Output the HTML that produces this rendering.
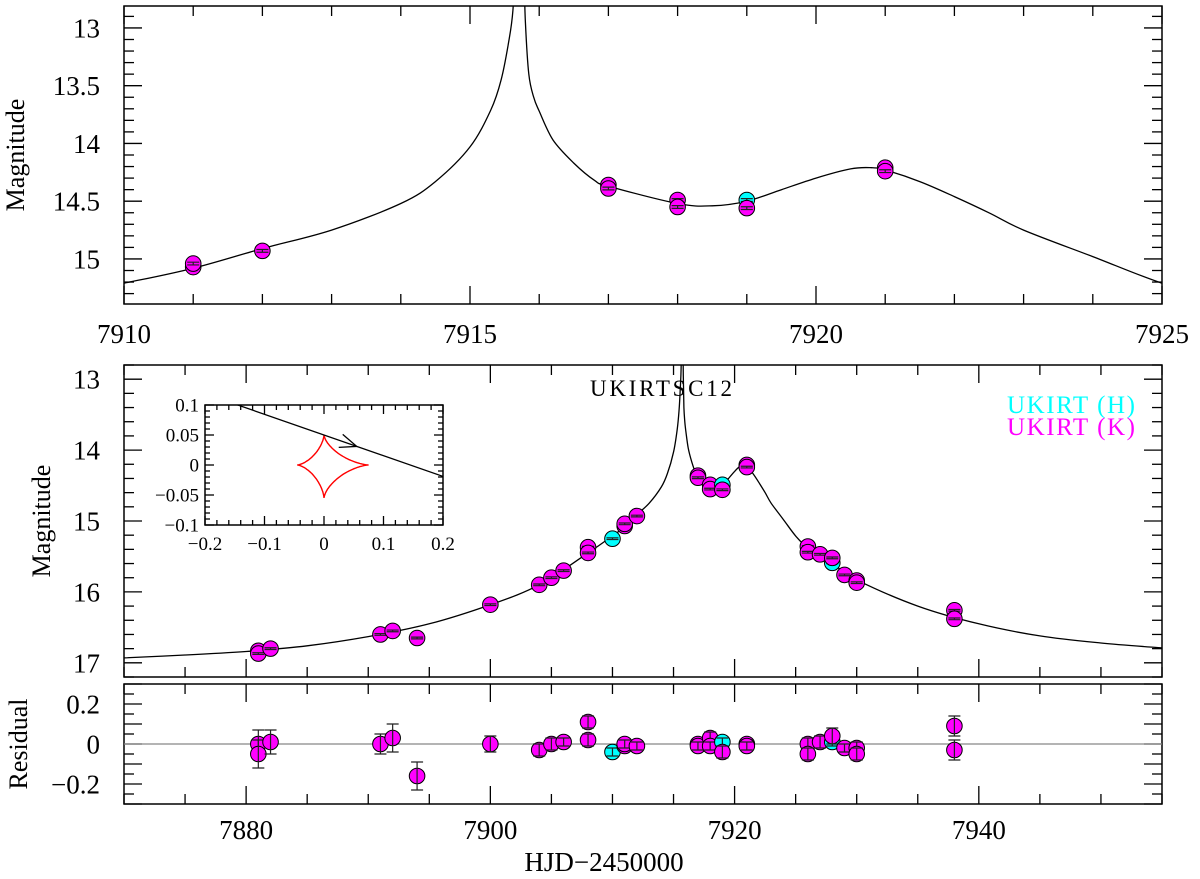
<!DOCTYPE html>
<html><head><meta charset="utf-8"><style>
html,body{margin:0;padding:0;background:#fff;}
svg{display:block;}
text{font-family:"Liberation Serif",serif;}
</style></head><body>
<svg id="fig" width="1200" height="879" viewBox="0 0 1200 879" xmlns="http://www.w3.org/2000/svg"></svg>
<script>
// ---- data ----
const days  = [7881,7881,7882,7891,7892,7894,7900,7904,7905,7906,7908,7908,7910,7911,7911,7912,7917,7917,7918,7918,7919,7919,7921,7921,7926,7926,7927,7928,7928,7929,7930,7930,7938,7938];
const mags  = [16.83,16.87,16.8,16.6,16.55,16.65,16.18,15.9,15.8,15.7,15.37,15.45,15.25,15.07,15.04,14.93,14.36,14.39,14.49,14.55,14.49,14.56,14.21,14.24,15.36,15.44,15.47,15.59,15.52,15.76,15.84,15.87,16.26,16.38];
const bands = ["K","K","K","K","K","K","K","K","K","K","K","K","H","K","K","K","K","K","K","K","H","K","K","K","K","K","K","H","K","K","K","K","K","K"];
const resid = [0.0,-0.05,0.01,0.0,0.03,-0.16,0.0,-0.03,0.0,0.01,0.11,0.02,-0.04,-0.01,0.0,-0.01,0.0,-0.01,0.03,-0.01,0.01,-0.04,0.0,-0.01,0.0,-0.05,0.01,0.01,0.04,-0.02,-0.02,-0.05,0.09,-0.03];
const rerr  = [0.07,0.07,0.06,0.05,0.07,0.07,0.04,0.03,0.03,0.02,0.03,0.03,0.02,0.02,0.02,0.02,0.02,0.02,0.03,0.02,0.02,0.03,0.02,0.02,0.03,0.03,0.03,0.02,0.04,0.02,0.03,0.03,0.05,0.05];
const modelT = [7870,7875,7880,7885,7890,7895,7900,7904,7908,7910,7911,7912,7913,7914,7914.5,7915,7915.3,7915.45,7915.55,7915.62,7915.66,7915.76,7915.8,7915.85,7915.92,7916,7916.2,7916.5,7916.8,7917,7918,7918.5,7919,7919.5,7920,7920.5,7920.8,7921,7921.5,7922,7922.5,7923,7924,7925,7926,7928,7930,7935,7940,7945,7950,7955];
const modelM = [16.93,16.89,16.84,16.76,16.63,16.45,16.18,15.9,15.45,15.21,15.08,14.91,14.75,14.52,14.33,14.03,13.71,13.45,13.15,12.85,12.3,12.3,12.95,13.4,13.6,13.72,13.97,14.17,14.32,14.37,14.52,14.54,14.5,14.4,14.3,14.22,14.21,14.23,14.33,14.46,14.6,14.75,14.98,15.21,15.38,15.6,15.83,16.2,16.45,16.62,16.72,16.79];
const trajX = [-0.2,0.2];
const trajY = [0.119,-0.019];
const topXTicks = ["7910","7915","7920","7925"];
const topYTicks = ["13","13.5","14","14.5","15"];
const midXTicks = ["7880","7900","7920","7940"];
const midYTicks = ["13","14","15","16","17"];
const resYTicks = ["0.2","0","-0.2"];
const insXTicks = ["-0.2","-0.1","0","0.1","0.2"];
const insYTicks = ["0.1","0.05","0","-0.05","-0.1"];

const NS="http://www.w3.org/2000/svg";
const svg=document.getElementById('fig');
function mk(tag,attrs,parent){const e=document.createElementNS(NS,tag);for(const k in attrs)e.setAttribute(k,attrs[k]);(parent||svg).appendChild(e);return e;}
function lin(d0,d1,p0,p1){return v=>p0+(v-d0)*(p1-p0)/(d1-d0);}
function lab(v){return v.replace('-','\u2212');}

function panel(name,L,R,T,B,x0,x1,y0,y1){
  const g=mk('g',{});
  
  
  return {g,L,R,T,B,sx:lin(x0,x1,L,R),sy:lin(y0,y1,T,B),x0,x1,y0,y1};
}
function frame(p,xmin,xmaj,ymin,ymaj,lmaj,lmin){
  const cp=mk('clipPath',{id:'c'+p.L+p.T});mk('rect',{x:p.L,y:p.T,width:p.R-p.L,height:p.B-p.T},cp);
  const t=mk('g',{stroke:'#000','stroke-width':1.3},p.g);
  
  
  const eps=1e-6;
  for(let v=Math.ceil(p.x0/xmin-eps)*xmin; v<=p.x1+eps; v+=xmin){
    const x=p.sx(v); const maj=Math.abs(v/xmaj-Math.round(v/xmaj))<1e-4; const l=maj?lmaj:lmin;
    mk('line',{x1:x,x2:x,y1:p.B,y2:p.B-l},t); mk('line',{x1:x,x2:x,y1:p.T,y2:p.T+l},t);
  }
  const ylo=Math.min(p.y0,p.y1), yhi=Math.max(p.y0,p.y1);
  for(let v=Math.ceil(ylo/ymin-eps)*ymin; v<=yhi+eps; v+=ymin){
    const y=p.sy(v); const maj=Math.abs(v/ymaj-Math.round(v/ymaj))<1e-4; const l=maj?lmaj:lmin;
    mk('line',{x1:p.L,x2:p.L+l,y1:y,y2:y},t); mk('line',{x1:p.R,x2:p.R-l,y1:y,y2:y},t);
  }
  const f=mk('rect',{x:p.L,y:p.T,width:p.R-p.L,height:p.B-p.T,fill:'none',stroke:'#000','stroke-width':1.5},p.g);
  
  
  return 'url(#c'+p.L+p.T+')';
}
function xlabels(p,arr,y,fs){arr.forEach(s=>{const t=mk('text',{x:p.sx(parseFloat(s)),y:y,'font-size':fs,'text-anchor':'middle'},p.g);t.textContent=lab(s);
  
  });}
function ylabels(p,arr,x,fs){arr.forEach(s=>{const t=mk('text',{x:x,y:p.sy(parseFloat(s))+fs*0.35,'font-size':fs,'text-anchor':'end'},p.g);t.textContent=lab(s);
  
  });}
function ytitle(p,txt,x,fs,name){const cy=(p.T+p.B)/2;const t=mk('text',{x:x,y:cy,'font-size':fs,'text-anchor':'middle',transform:`rotate(-90 ${x} ${cy})`},p.g);t.textContent=txt;
  
  }
function model(p,clip){
  const P=modelT.map((t,i)=>[p.sx(t),p.sy(modelM[i])]);
  let d='M'+P[0][0].toFixed(1)+','+P[0][1].toFixed(1);
  for(let i=0;i<P.length-1;i++){
    const p0=P[Math.max(i-1,0)],p1=P[i],p2=P[i+1],p3=P[Math.min(i+2,P.length-1)];
    const c1=[p1[0]+(p2[0]-p0[0])/6,p1[1]+(p2[1]-p0[1])/6];
    const c2=[p2[0]-(p3[0]-p1[0])/6,p2[1]-(p3[1]-p1[1])/6];
    d+=`C${c1[0].toFixed(1)},${c1[1].toFixed(1)} ${c2[0].toFixed(1)},${c2[1].toFixed(1)} ${p2[0].toFixed(1)},${p2[1].toFixed(1)}`;
  }
  const l=mk('path',{d:d,fill:'none',stroke:'#000','stroke-width':1.3,'clip-path':clip},p.g);
  
  
}
function points(p,clip,yv,ev){
  const g=mk('g',{'clip-path':clip},p.g);
  
  
  days.forEach((d,i)=>{
    if(d<=p.x0||d>=p.x1)return;
    const x=p.sx(d),y=p.sy(yv[i]);
    const c=mk('circle',{cx:x,cy:y,r:7.8,fill:bands[i]==='H'?'#00ffff':'#ff00ff',stroke:'#000','stroke-width':1},g);
    
    
    const e=ev?ev[i]:0.012;
    const ya=p.sy(yv[i]+e),yb=p.sy(yv[i]-e);
    const eb=mk('path',{d:`M${x},${ya}V${yb}M${x-6},${ya}H${x+6}M${x-6},${yb}H${x+6}`,stroke:'#222','stroke-width':1.2,fill:'none'},g);
    
    
  });
}

// ---- top panel ----
const P1=panel('top-zoom-panel',124,1162,6,304,7910,7925,12.81,15.39);
let c1=frame(P1,1,5,0.1,0.5,18,10);
model(P1,c1); points(P1,c1,mags,null);
xlabels(P1,topXTicks,343,27); ylabels(P1,topYTicks,100,27); ytitle(P1,'Magnitude',24,26,'y-axis-title-top');

// ---- middle panel ----
const P2=panel('main-lightcurve-panel',124,1162,365,677,7870,7955,12.8,17.2);
let c2=frame(P2,5,20,0.2,1,18,10);
model(P2,c2); points(P2,c2,mags,null);
ylabels(P2,midYTicks,100,27); ytitle(P2,'Magnitude',50,26,'y-axis-title-main');
let tt=mk('text',{x:590,y:396,'font-size':23,textLength:142},P2.g);tt.textContent='UKIRTSC12';


let lg1=mk('text',{x:1007,y:413,'font-size':25,fill:'#00ffff',textLength:128},P2.g);lg1.textContent='UKIRT (H)';


let lg2=mk('text',{x:1007,y:435,'font-size':25,fill:'#ff00ff',textLength:128},P2.g);lg2.textContent='UKIRT (K)';



// ---- inset ----
const P4=panel('caustic-inset',205,443,405,525,-0.2,0.2,0.1,-0.1);
mk('rect',{x:205,y:405,width:238,height:120,fill:'#fff'},P4.g);
let c4=frame(P4,0.02,0.1,0.01,0.05,9,5);
(function(){
  const cl=-0.045,cr=0.075,ctop=0.05,cb=-0.055; let d='';
  for(let k=0;k<=200;k++){const a=k/200*2*Math.PI;const c=Math.cos(a),s=Math.sin(a);
    const x=(c>=0?cr:-cl)*c*c*c, y=(s>=0?ctop:-cb)*s*s*s;
    d+=(k?'L':'M')+P4.sx(x).toFixed(1)+','+P4.sy(y).toFixed(1);}
  const cs=mk('path',{d:d,fill:'none',stroke:'#ff0000','stroke-width':1.4,'clip-path':c4},P4.g);
  
  
  const tr=mk('line',{x1:P4.sx(trajX[0]),y1:P4.sy(trajY[0]),x2:P4.sx(trajX[1]),y2:P4.sy(trajY[1]),stroke:'#000','stroke-width':1.3,'clip-path':c4},P4.g);
  
  
  const ax=0.055, ay=trajY[0]+(ax-trajX[0])*(trajY[1]-trajY[0])/(trajX[1]-trajX[0]);
  const X=P4.sx(ax),Y=P4.sy(ay);
  const ar=mk('path',{d:`M${X-14},${Y-12}L${X},${Y}L${X-18},${Y+1}`,fill:'none',stroke:'#000','stroke-width':1.3},P4.g);
  
  
})();
xlabels(P4,insXTicks,550,19); ylabels(P4,insYTicks,199,19);

// ---- residual panel ----
const P3=panel('residual-panel',124,1162,684,804,7870,7955,0.3,-0.3);
let c3=frame(P3,5,20,0.05,0.1,18,10);
let zl=mk('line',{x1:124,x2:1162,y1:P3.sy(0),y2:P3.sy(0),stroke:'#888','stroke-width':1.3},P3.g);


points(P3,c3,resid,rerr);
xlabels(P3,midXTicks,839,27); ylabels(P3,resYTicks,100,27); ytitle(P3,'Residual',27,26,'y-axis-title-residual');
let xt=mk('text',{x:604,y:871,'font-size':27,'text-anchor':'middle'},P3.g);xt.textContent='HJD\u22122450000';


</script>
</body></html>
